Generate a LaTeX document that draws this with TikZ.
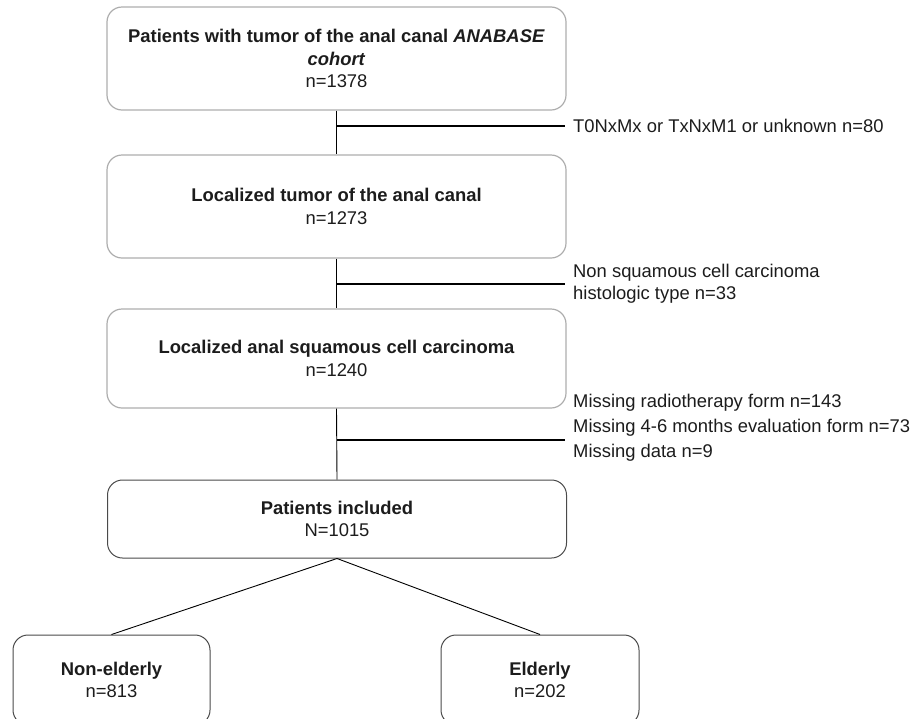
\documentclass[tikz,border=0pt]{standalone}
\usepackage{fontspec}
\setmainfont{Liberation Sans}
\usetikzlibrary{positioning}
\definecolor{boxgray}{HTML}{ADADAD}
\definecolor{boxdark}{HTML}{4A4A4A}
\definecolor{ink}{HTML}{1C1C1C}

\begin{document}
\begin{tikzpicture}[x=1pt,y=-1pt,
  stage/.style={draw=boxgray,line width=1.2pt,rounded corners=15pt,align=center,inner sep=0pt,
    minimum width=459pt,text=ink,font=\fontsize{18.4}{22.5}\selectfont},
  group/.style={stage,draw=boxdark,line width=1pt},
  excl/.style={anchor=west,align=left,inner sep=0pt,text=ink,font=\fontsize{18.4}{22}\selectfont},
  flow/.style={line width=0.9pt},
  cut/.style={line width=1.8pt}]
\useasboundingbox (0,0) rectangle (917,718);
\clip (0,0) rectangle (917,718);

\node[stage,minimum height=103pt] (cohort) at (336.5,58.5)
  {\textbf{Patients with tumor of the anal canal \textit{ANABASE}}\\\textbf{\textit{cohort}}\\n=1378};
\node[stage,minimum height=103pt] (local) at (336.5,206.5)
  {\textbf{Localized tumor of the anal canal}\\n=1273};
\node[stage,minimum height=99pt] (scc) at (336.5,358.5)
  {\textbf{Localized anal squamous cell carcinoma}\\n=1240};
\node[group,minimum height=78pt] (incl) at (337,519)
  {\textbf{Patients included}\\N=1015};
\node[group,minimum width=197pt,minimum height=90pt] (young) at (111.5,680)
  {\textbf{Non-elderly}\\n=813};
\node[group,minimum width=198pt,minimum height=90pt] (old) at (540,680)
  {\textbf{Elderly}\\n=202};

\draw[flow] (cohort.south) -- (local.north);
\draw[flow] (local.south) -- (scc.north);
\draw[flow] (scc.south) -- (incl.north);
\draw[flow] (incl.south) -- (young.north);
\draw[flow] (incl.south) -- (old.north);

\coordinate (c1) at (336.5,126);
\coordinate (e1) at (565,126);
\coordinate (c2) at (336.5,284);
\coordinate (e2) at (565,284);
\coordinate (c3) at (336.5,440);
\coordinate (e3) at (565,440);
\draw[cut] (c1) -- (e1);
\draw[cut] (c2) -- (e2);
\draw[cut] (c3) -- (e3);

\node[excl,right=8pt of e1] (lab1) {T0NxMx or TxNxM1 or unknown n=80};
\node[excl,right=8pt of e2] (lab2) {Non squamous cell carcinoma\\histologic type n=33};
\node[excl] (lab3) at (573,428)
  {Missing radiotherapy form n=143\\[3pt]Missing 4-6 months evaluation form n=73\\[3pt]Missing data n=9};
\end{tikzpicture}
\end{document}
